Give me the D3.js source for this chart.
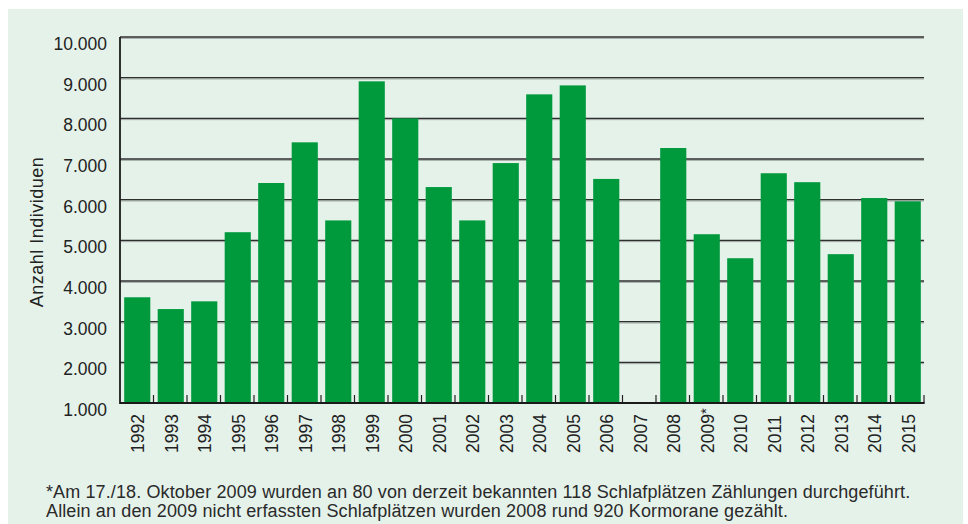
<!DOCTYPE html>
<html>
<head>
<meta charset="utf-8">
<script src="https://cdn.jsdelivr.net/npm/d3@7"></script>
<style>
  body { margin: 0; background: #fff; }
  text { font-family: "Liberation Sans", Arial, sans-serif; fill: #222; }
</style>
</head>
<body>
<div id="chart"></div>
<script>
const years = ['1992', '1993', '1994', '1995', '1996', '1997', '1998', '1999', '2000', '2001', '2002', '2003',
  '2004', '2005', '2006', '2007', '2008', '2009*', '2010', '2011', '2012', '2013', '2014', '2015'];
// 2007: no count
const individuals = [3600, 3310, 3500, 5200, 6410, 7410, 5490, 8910, 8000, 6310, 5490, 6900,
  8590, 8810, 6510, null, 7270, 5150, 4560, 6650, 6430, 4660, 6040, 5960];
const yTicks = [1000, 2000, 3000, 4000, 5000, 6000, 7000, 8000, 9000, 10000];
const yTitle = 'Anzahl Individuen';
const footnote = [
  '*Am 17./18. Oktober 2009 wurden an 80 von derzeit bekannten 118 Schlafplätzen Zählungen durchgeführt.',
  'Allein an den 2009 nicht erfassten Schlafplätzen wurden 2008 rund 920 Kormorane gezählt.'
];

const W = 968, H = 524;
const margin = { top: 37, right: 44, bottom: 121, left: 120 };
const width = W - margin.left - margin.right;
const height = H - margin.top - margin.bottom;

const de = d3.formatLocale({ decimal: ',', thousands: '.', grouping: [3], currency: ['', ' €'] });
const fmt = de.format(',.0f');

const svg = d3.select('#chart').append('svg')
  .attr('width', W)
  .attr('height', H);

// light green panel
svg.append('rect')
  .attr('x', 8).attr('y', 9)
  .attr('width', 955).attr('height', H - 9)
  .attr('fill', '#e5f2ea');

const g = svg.append('g')
  .attr('transform', `translate(${margin.left},${margin.top})`);

const x = d3.scaleBand().domain(years).range([0, width]).padding(0);
const y = d3.scaleLinear().domain([1000, 10000]).range([height, 0]);

// gridlines
const grid = g.append('g');
yTicks.filter(t => t > 1000).forEach(t => {
  grid.append('line')
    .attr('x1', 0).attr('x2', width)
    .attr('y1', y(t) + 1.3).attr('y2', y(t) + 1.3)
    .attr('stroke', '#9ba39e').attr('stroke-width', 1);
  grid.append('line')
    .attr('x1', 0).attr('x2', width)
    .attr('y1', y(t)).attr('y2', y(t))
    .attr('stroke', '#2f2f2f').attr('stroke-width', 1.4);
});

// bars
const bw = x.bandwidth();
g.selectAll('.bar')
  .data(years.map((yr, i) => ({ yr, v: individuals[i] })).filter(d => d.v != null))
  .enter().append('rect')
  .attr('class', 'bar')
  .attr('x', d => x(d.yr) + bw * 0.125)
  .attr('width', bw * 0.78)
  .attr('y', d => y(d.v))
  .attr('height', d => height - y(d.v))
  .attr('fill', '#009a3d');

// x ticks at band boundaries, pointing up
g.selectAll('.xtick')
  .data(years.slice(1).map(d => x(d)).concat([width]))
  .enter().append('line')
  .attr('x1', d => d).attr('x2', d => d)
  .attr('y1', height).attr('y2', height - 8)
  .attr('stroke', '#222').attr('stroke-width', 1.2);

// axes lines
g.append('line')
  .attr('x1', 0).attr('x2', width + 0.6)
  .attr('y1', height).attr('y2', height)
  .attr('stroke', '#1a1a1a').attr('stroke-width', 2);
g.append('line')
  .attr('x1', 0).attr('x2', 0)
  .attr('y1', 0).attr('y2', height + 1)
  .attr('stroke', '#1a1a1a').attr('stroke-width', 1.8);

// y tick labels (hang below the gridline)
g.selectAll('.ylab')
  .data(yTicks)
  .enter().append('text')
  .attr('x', -13)
  .attr('y', d => y(d) + 13)
  .attr('text-anchor', 'end')
  .style('font-size', '17.5px')
  .text(d => fmt(d));

// x labels, rotated
const xl = g.selectAll('.xlab')
  .data(years)
  .enter().append('text')
  .attr('transform', d => `translate(${x(d) + bw / 2 + 1},${height + 50}) rotate(-90)`)
  .attr('text-anchor', 'start')
  .attr('dy', '0.36em')
  .style('font-size', '17.5px');
xl.append('tspan').text(d => d.replace('*', ''));
xl.filter(d => d.includes('*')).append('tspan')
  .attr('dy', '-0.15em')
  .style('font-size', '15px')
  .text('*');

// y title
g.append('text')
  .attr('transform', `translate(${37 - margin.left},${232 - margin.top}) rotate(-90)`)
  .attr('text-anchor', 'middle')
  .attr('dy', '0.36em')
  .style('font-size', '18px')
  .style('letter-spacing', '0.5px')
  .text(yTitle);

// footnote
svg.selectAll('.foot')
  .data(footnote)
  .enter().append('text')
  .attr('x', 46)
  .attr('y', (d, i) => 497.7 + i * 19.6)
  .style('font-size', '18px')
  .style('letter-spacing', '0.12px')
  .style('fill', '#2a2a2a')
  .text(d => d);
</script>
</body>
</html>
